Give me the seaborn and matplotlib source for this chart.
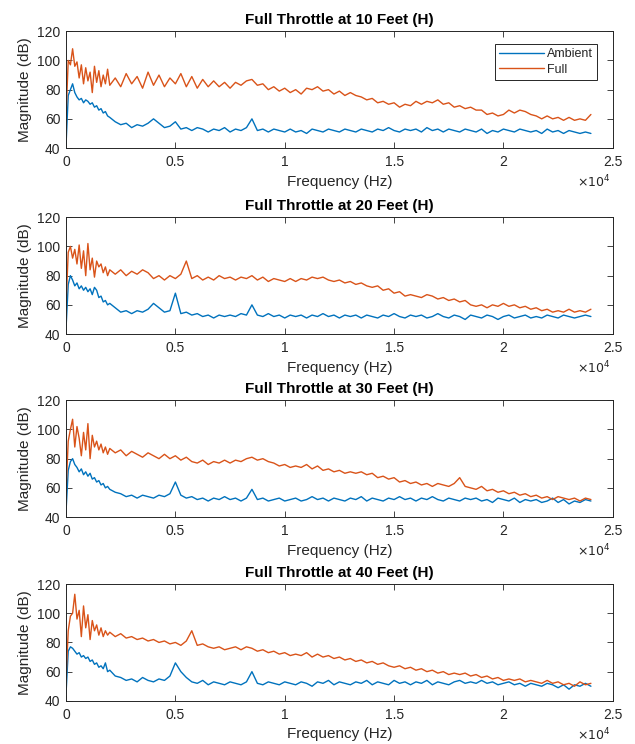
import matplotlib
matplotlib.use("Agg")
import matplotlib.pyplot as plt
from matplotlib.ticker import FuncFormatter
import numpy as np
import pandas as pd
import seaborn as sns

sns.set_theme(style="ticks")
plt.rcParams["font.family"] = ["Liberation Sans", "DejaVu Sans"]

# frequency bins (Hz): 100 Hz steps up to 2 kHz, 250 Hz steps after that
freq = np.concatenate([np.arange(0, 2001, 100), np.arange(2250, 24001, 250)])

distances = [10, 20, 30, 40]

full_10 = [62, 100, 97, 108, 96, 99, 88,
           97, 84, 95, 86, 92, 78, 96,
           85, 93, 82, 90, 84, 94, 83,
           88, 82, 91, 84, 89, 81, 92, 83, 90, 82, 88,
           84, 91, 82, 89, 81, 87, 82, 86, 82, 85, 81,
           85, 83, 86, 87, 83, 84, 80, 82, 79, 81, 78,
           80, 77, 81, 80, 82, 79, 80, 77, 79, 76, 78,
           76, 75, 73, 74, 71, 72, 70, 71, 68, 70, 69,
           72, 70, 72, 71, 73, 70, 71, 68, 69, 67, 68,
           66, 66, 63, 64, 62, 63, 66, 64, 66, 65, 63,
           62, 60, 62, 60, 61, 59, 61, 59, 60, 59, 63]
amb_10 = [42, 76, 80, 84, 78, 75, 73,
          74, 71, 73, 72, 70, 71, 68,
          69, 66, 67, 64, 65, 62, 61,
          58, 56, 57, 54, 56, 55, 57, 60, 57, 54, 55,
          58, 53, 54, 52, 54, 53, 51, 53, 52, 54, 51,
          53, 52, 54, 60, 52, 53, 51, 53, 52, 51, 53,
          51, 52, 50, 53, 52, 51, 53, 52, 51, 53, 52,
          51, 53, 52, 51, 53, 52, 54, 52, 51, 53, 52,
          53, 51, 54, 52, 53, 51, 53, 52, 51, 53, 52,
          51, 53, 50, 52, 51, 53, 52, 51, 53, 52, 51,
          52, 50, 53, 51, 52, 50, 52, 51, 50, 51, 50]

full_20 = [60, 96, 100, 92, 98, 88, 101,
           85, 97, 80, 102, 84, 92, 79,
           90, 86, 88, 82, 86, 80, 84,
           81, 84, 80, 83, 81, 84, 82, 78, 80, 77, 80,
           78, 81, 90, 78, 80, 77, 79, 77, 80, 78, 79,
           77, 79, 78, 80, 77, 79, 76, 78, 77, 76, 78,
           76, 78, 77, 79, 78, 79, 77, 76, 77, 75, 76,
           74, 75, 73, 72, 73, 70, 71, 68, 69, 66, 67,
           66, 65, 67, 66, 64, 65, 63, 64, 62, 63, 60,
           59, 60, 58, 60, 59, 61, 59, 60, 58, 59, 57,
           58, 56, 57, 55, 56, 55, 57, 55, 56, 55, 57]
amb_20 = [44, 74, 80, 77, 73, 75, 71,
          73, 70, 72, 69, 71, 67, 72,
          70, 65, 66, 62, 63, 60, 61,
          58, 55, 56, 54, 56, 55, 57, 61, 58, 55, 56,
          68, 54, 55, 53, 54, 52, 53, 51, 53, 52, 53,
          52, 54, 53, 60, 53, 52, 54, 52, 53, 51, 53,
          52, 53, 51, 53, 52, 54, 52, 53, 51, 53, 52,
          53, 51, 53, 52, 51, 53, 52, 54, 52, 51, 53,
          52, 53, 51, 52, 54, 52, 51, 53, 52, 50, 53,
          52, 51, 53, 52, 50, 52, 53, 51, 52, 53, 51,
          52, 51, 53, 52, 51, 53, 52, 51, 52, 53, 52]

full_30 = [58, 92, 100, 107, 88, 102, 94,
           82, 98, 86, 104, 80, 96, 88,
           92, 86, 90, 84, 88, 83, 87,
           84, 86, 82, 85, 83, 81, 84, 82, 80, 83, 80,
           82, 79, 81, 78, 77, 79, 76, 78, 77, 79, 77,
           79, 78, 80, 81, 79, 80, 78, 77, 75, 76, 74,
           75, 74, 76, 73, 75, 72, 73, 71, 72, 70, 71,
           70, 71, 69, 70, 67, 68, 66, 67, 64, 65, 63,
           64, 62, 63, 61, 63, 62, 61, 63, 67, 61, 60,
           59, 61, 58, 59, 57, 58, 56, 57, 55, 56, 54,
           55, 53, 54, 52, 54, 53, 52, 53, 51, 53, 52]
amb_30 = [44, 72, 78, 80, 76, 74, 71,
          73, 69, 71, 68, 70, 66, 67,
          64, 65, 62, 63, 60, 61, 59,
          57, 56, 54, 55, 53, 55, 54, 53, 55, 54, 56,
          64, 55, 53, 54, 52, 53, 51, 53, 52, 54, 52,
          53, 51, 53, 59, 52, 53, 51, 52, 53, 51, 52,
          53, 51, 52, 54, 52, 53, 51, 53, 52, 51, 53,
          52, 54, 51, 53, 52, 51, 53, 52, 54, 52, 53,
          51, 53, 52, 54, 52, 51, 53, 52, 51, 53, 52,
          53, 51, 52, 50, 53, 52, 51, 53, 50, 52, 51,
          52, 50, 51, 53, 50, 52, 49, 51, 50, 52, 51]

full_40 = [55, 88, 98, 100, 113, 96, 102,
           84, 105, 90, 99, 82, 95, 88,
           92, 85, 90, 84, 88, 85, 87,
           84, 86, 83, 84, 82, 83, 81, 82, 80, 81, 79,
           80, 78, 81, 88, 78, 79, 77, 76, 77, 75, 76,
           77, 75, 77, 76, 74, 75, 73, 74, 72, 73, 71,
           72, 71, 73, 70, 72, 70, 71, 69, 70, 68, 69,
           67, 68, 66, 67, 65, 66, 64, 63, 64, 62, 63,
           61, 62, 60, 61, 59, 60, 58, 59, 58, 59, 57,
           58, 56, 57, 55, 56, 54, 55, 54, 55, 53, 54,
           53, 52, 54, 52, 53, 51, 52, 50, 53, 51, 52]
amb_40 = [45, 74, 77, 76, 74, 72, 73,
          70, 71, 69, 70, 67, 68, 65,
          66, 63, 64, 62, 66, 60, 61,
          57, 56, 54, 55, 53, 56, 54, 53, 55, 54, 57,
          66, 60, 56, 53, 52, 54, 51, 53, 52, 51, 53,
          52, 51, 53, 60, 52, 51, 53, 52, 51, 53, 52,
          51, 53, 52, 50, 53, 52, 54, 51, 53, 52, 51,
          53, 52, 54, 51, 53, 52, 51, 54, 52, 53, 51,
          53, 52, 54, 51, 53, 52, 51, 53, 54, 52, 53,
          52, 54, 52, 53, 51, 52, 53, 51, 52, 50, 52,
          51, 50, 52, 51, 49, 51, 48, 51, 50, 52, 50]

ambient = [amb_10, amb_20, amb_30, amb_40]
full = [full_10, full_20, full_30, full_40]

palette = {"Ambient": "#0072BD", "Full": "#D95319"}
edge = "#262626"

fig = plt.figure(figsize=(6.35, 7.44), dpi=100)
bottoms = [0.801, 0.551, 0.305, 0.058]

for i, (dist, amb, ful) in enumerate(zip(distances, ambient, full)):
    ax = fig.add_axes([0.104, bottoms[i], 0.861, 0.157])
    df = pd.concat([
        pd.DataFrame({"freq": freq, "mag": amb, "series": "Ambient"}),
        pd.DataFrame({"freq": freq, "mag": ful, "series": "Full"}),
    ])
    sns.lineplot(data=df, x="freq", y="mag", hue="series", palette=palette,
                 estimator=None, sort=False, lw=1.0, ax=ax, legend=(i == 0))

    ax.set_xlim(0, 25000)
    ax.set_ylim(40, 120)
    ax.set_xticks(np.arange(0, 25001, 5000))
    ax.set_yticks(np.arange(40, 121, 20))
    ax.xaxis.set_major_formatter(FuncFormatter(lambda v, p: f"{v / 1e4:g}"))
    ax.tick_params(direction="in", top=True, right=True, length=4, width=0.6,
                   color=edge, labelcolor=edge, labelsize=10, pad=4)
    ax.tick_params(axis="x", pad=5)
    for sp in ax.spines.values():
        sp.set_color(edge)
        sp.set_linewidth(0.7)
    ax.set_xlabel("Frequency (Hz)", fontsize=11, color=edge, labelpad=4)
    ax.set_ylabel("Magnitude (dB)", fontsize=11, color=edge, labelpad=4)
    ax.set_title(f"Full Throttle at {dist} Feet (H)", fontsize=11,
                 fontweight="bold", color="black", pad=5)
    ax.text(0.995, -0.29, r"$\times10^{4}$", transform=ax.transAxes,
            ha="right", va="center", fontsize=9, color=edge)

    if i == 0:
        leg = ax.legend(loc="upper right", bbox_to_anchor=(0.971, 0.894),
                        borderaxespad=0, fontsize=9, frameon=True,
                        fancybox=False, framealpha=1, edgecolor=edge,
                        handlelength=3.6, handletextpad=0.2,
                        labelspacing=0.3, borderpad=0.35)
        leg.get_frame().set_linewidth(0.7)
        leg.set_title(None)

fig.savefig("out.png", dpi=100)
